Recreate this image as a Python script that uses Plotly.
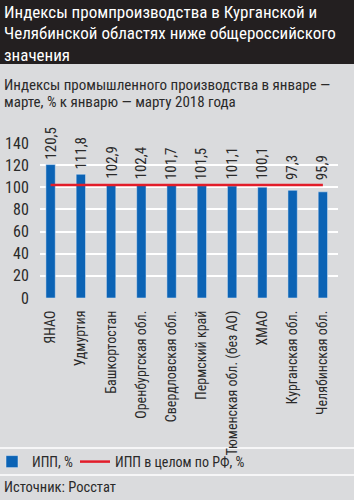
import plotly.graph_objects as go

regions = ["ЯНАО", "Удмуртия", "Башкортостан", "Оренбургская обл.", "Свердловская обл.",
           "Пермский край", "Тюменская обл. (без АО)", "ХМАО", "Курганская обл.", "Челябинская обл."]
ipp = [120.5, 111.8, 102.9, 102.4, 101.7, 101.5, 101.1, 100.1, 97.3, 95.9]
rf = [102.1, 102.1, 102.1, 102.1, 102.1, 102.1, 102.1, 102.1, 102.1, 102.1]
y_ticks = [0, 20, 40, 60, 80, 100, 120, 140]

title_lines = ["Индексы промпроизводства в Курганской и",
               "Челябинской областях ниже общероссийского",
               "значения"]
subtitle_lines = ["Индексы промышленного производства в январе —",
                  "марте, % к январю — марту 2018 года"]
source = "Источник: Росстат"

FONT = "Roboto Condensed, DejaVu Sans Condensed, sans-serif"
BG = "#dadbdd"
DARK = "#231f20"
TXT = "#2a2a2a"
BLUE = "#0b63b5"
RED = "#e21d2a"

W, H = 354, 500
ML, MR, MT, MB = 40, 16, 143, 202
PW, PH = W - ML - MR, H - MT - MB

def px(x):
    return (x - ML) / PW

def py(y):
    return (H - MB - y) / PH

fig = go.Figure()
fig.add_trace(go.Bar(x=regions, y=ipp, name="ИПП, %", marker_color=BLUE, width=0.31,
                     legend="legend"))
fig.add_trace(go.Scatter(x=regions, y=rf, name="ИПП в целом по РФ, %", mode="lines",
                         line=dict(color=RED, width=2.5), legend="legend2"))

ann = []
for r, v in zip(regions, ipp):
    ann.append(dict(x=r, y=max(v, rf[0]), xref="x", yref="y", text=f"{v:.1f}".replace(".", ","),
                    textangle=-90, showarrow=False, yanchor="bottom", xanchor="center",
                    yshift=3, font=dict(family=FONT, size=15, color=TXT)))
for i, t in enumerate(title_lines):
    ann.append(dict(x=px(2), y=py(12 + 21.5 * i), xref="paper", yref="paper", text=t,
                    showarrow=False, xanchor="left", yanchor="middle",
                    font=dict(family=FONT, size=17, color="white")))
for i, t in enumerate(subtitle_lines):
    ann.append(dict(x=px(2), y=py(85 + 17 * i), xref="paper", yref="paper", text=t,
                    showarrow=False, xanchor="left", yanchor="middle",
                    font=dict(family=FONT, size=15, color=TXT)))
ann.append(dict(x=px(2), y=py(488), xref="paper", yref="paper", text=source,
                showarrow=False, xanchor="left", yanchor="middle",
                font=dict(family=FONT, size=14.5, color=TXT)))

shapes = [
    dict(type="rect", xref="paper", yref="paper", x0=px(0), x1=px(W), y0=py(0), y1=py(64),
         fillcolor=DARK, line_width=0, layer="below"),
    dict(type="line", xref="paper", yref="paper", x0=px(0), x1=px(W), y0=py(448), y1=py(448),
         line=dict(color="white", width=1.5), layer="below"),
    dict(type="line", xref="paper", yref="paper", x0=px(0), x1=px(W), y0=py(475), y1=py(475),
         line=dict(color="white", width=1.5), layer="below"),
]

leg_common = dict(orientation="h", xref="paper", yref="container", y=1 - 462 / H,
                  xanchor="left", yanchor="middle", bgcolor="rgba(0,0,0,0)",
                  font=dict(family=FONT, size=14, color=TXT), itemwidth=30)

fig.update_layout(
    width=W, height=H,
    margin=dict(l=ML, r=MR, t=MT, b=MB, autoexpand=False),
    paper_bgcolor=BG, plot_bgcolor=BG,
    font=dict(family=FONT, size=14, color=TXT),
    showlegend=True,
    legend=dict(x=px(-8), **leg_common),
    legend2=dict(x=px(75), **leg_common),
    annotations=ann, shapes=shapes,
)
fig.update_xaxes(tickangle=-90, showgrid=False, showline=False, ticks="outside", ticklen=6,
                 tickcolor="rgba(0,0,0,0)", tickfont=dict(size=14),
                 range=[-0.35, 9.5], automargin=False)
fig.update_yaxes(range=[0, 140], tickvals=y_ticks, showgrid=True, gridcolor="#ffffff", gridwidth=2,
                 zeroline=False, showline=False, ticks="outside", ticklen=7,
                 tickcolor="rgba(0,0,0,0)", tickfont=dict(size=16), automargin=False)

fig.write_html("out.html")
